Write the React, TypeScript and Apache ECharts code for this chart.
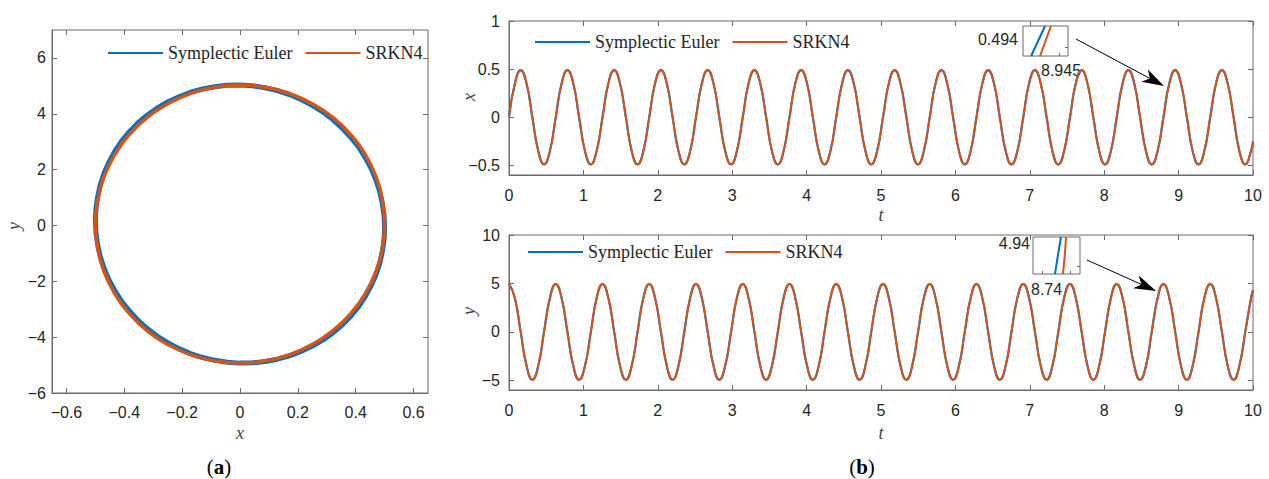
import React, { useEffect, useRef } from "react";
import * as echarts from "echarts";

// ---------- data ----------
// sample times (s) for panel (b)
const tValues = [
  0, 0.079, 0.157, 0.236, 0.314, 0.393, 0.471, 0.55,
  0.628, 0.707, 0.785, 0.864, 0.942, 1.021, 1.1, 1.178,
  1.257, 1.335, 1.414, 1.492, 1.571, 1.649, 1.728, 1.806,
  1.885, 1.963, 2.042, 2.121, 2.199, 2.278, 2.356, 2.435,
  2.513, 2.592, 2.67, 2.749, 2.827, 2.906, 2.985, 3.063,
  3.142, 3.22, 3.299, 3.377, 3.456, 3.534, 3.613, 3.691,
  3.77, 3.848, 3.927, 4.006, 4.084, 4.163, 4.241, 4.32,
  4.398, 4.477, 4.555, 4.634, 4.712, 4.791, 4.869, 4.948,
  5.027, 5.105, 5.184, 5.262, 5.341, 5.419, 5.498, 5.576,
  5.655, 5.733, 5.812, 5.89, 5.969, 6.048, 6.126, 6.205,
  6.283, 6.362, 6.44, 6.519, 6.597, 6.676, 6.754, 6.833,
  6.912, 6.99, 7.069, 7.147, 7.226, 7.304, 7.383, 7.461,
  7.54, 7.618, 7.697, 7.775, 7.854, 7.933, 8.011, 8.09,
  8.168, 8.247, 8.325, 8.404, 8.482, 8.561, 8.639, 8.718,
  8.796, 8.875, 8.954, 9.032, 9.111, 9.189, 9.268, 9.346,
  9.425, 9.503, 9.582, 9.66, 9.739, 9.817, 9.896, 9.974,
  10,
];

// x(t)
const xValues = [
  0, 0.35, 0.49, 0.35, 0, -0.35, -0.49, -0.35,
  0, 0.35, 0.49, 0.35, 0, -0.35, -0.49, -0.35,
  0, 0.35, 0.49, 0.35, 0, -0.35, -0.49, -0.35,
  0, 0.35, 0.49, 0.35, 0, -0.35, -0.49, -0.35,
  0, 0.35, 0.49, 0.35, 0, -0.35, -0.49, -0.35,
  0, 0.35, 0.49, 0.35, 0, -0.35, -0.49, -0.35,
  0, 0.35, 0.49, 0.35, 0, -0.35, -0.49, -0.35,
  0, 0.35, 0.49, 0.35, 0, -0.35, -0.49, -0.35,
  0, 0.35, 0.49, 0.35, 0, -0.35, -0.49, -0.35,
  0, 0.35, 0.49, 0.35, 0, -0.35, -0.49, -0.35,
  0, 0.35, 0.49, 0.35, 0, -0.35, -0.49, -0.35,
  0, 0.35, 0.49, 0.35, 0, -0.35, -0.49, -0.35,
  0, 0.35, 0.49, 0.35, 0, -0.35, -0.49, -0.35,
  0, 0.35, 0.49, 0.35, 0, -0.35, -0.49, -0.35,
  0, 0.35, 0.49, 0.35, 0, -0.35, -0.49, -0.35,
  0, 0.35, 0.49, 0.35, 0, -0.35, -0.49, -0.35,
  -0.25,
];

// y(t)
const yValues = [
  5, 3.5, 0, -3.5, -4.94, -3.5, 0, 3.5,
  4.94, 3.5, 0, -3.5, -4.94, -3.5, 0, 3.5,
  4.94, 3.5, 0, -3.5, -4.94, -3.5, 0, 3.5,
  4.94, 3.5, 0, -3.5, -4.94, -3.5, 0, 3.5,
  4.94, 3.5, 0, -3.5, -4.94, -3.5, 0, 3.5,
  4.94, 3.5, 0, -3.5, -4.94, -3.5, 0, 3.5,
  4.94, 3.5, 0, -3.5, -4.94, -3.5, 0, 3.5,
  4.94, 3.5, 0, -3.5, -4.94, -3.5, 0, 3.5,
  4.94, 3.5, 0, -3.5, -4.94, -3.5, 0, 3.5,
  4.94, 3.5, 0, -3.5, -4.94, -3.5, 0, 3.5,
  4.94, 3.5, 0, -3.5, -4.94, -3.5, 0, 3.5,
  4.94, 3.5, 0, -3.5, -4.94, -3.5, 0, 3.5,
  4.94, 3.5, 0, -3.5, -4.94, -3.5, 0, 3.5,
  4.94, 3.5, 0, -3.5, -4.94, -3.5, 0, 3.5,
  4.94, 3.5, 0, -3.5, -4.94, -3.5, 0, 3.5,
  4.94, 3.5, 0, -3.5, -4.94, -3.5, 0, 3.5,
  4.31,
];

// phase portrait (a): x along the orbit (shared by both methods)
const phaseX = [
  0, 0.044, 0.087, 0.129, 0.171, 0.211, 0.25, 0.287, 0.321, 0.354, 0.383, 0.41, 0.433, 0.453, 0.47, 0.483, 0.492, 0.498, 0.5,
  0.498, 0.492, 0.483, 0.47, 0.453, 0.433, 0.41, 0.383, 0.354, 0.321, 0.287, 0.25, 0.211, 0.171, 0.129, 0.087, 0.044, 0,
  -0.044, -0.087, -0.129, -0.171, -0.211, -0.25, -0.287, -0.321, -0.354, -0.383, -0.41, -0.433, -0.453, -0.47, -0.483, -0.492, -0.498, -0.5,
  -0.498, -0.492, -0.483, -0.47, -0.453, -0.433, -0.41, -0.383, -0.354, -0.321, -0.287, -0.25, -0.211, -0.171, -0.129, -0.087, -0.044, 0,
];
// SRKN4 orbit y
const srknPhaseY = [
  5.03, 5.01, 4.95, 4.86, 4.73, 4.56, 4.36, 4.13, 3.87, 3.57, 3.25, 2.91, 2.54, 2.16, 1.75, 1.34, 0.92, 0.48, 0.05,
  -0.38, -0.82, -1.24, -1.65, -2.06, -2.44, -2.81, -3.15, -3.47, -3.77, -4.03, -4.26, -4.46, -4.63, -4.76, -4.85, -4.91, -4.93,
  -4.91, -4.85, -4.76, -4.63, -4.46, -4.26, -4.03, -3.77, -3.47, -3.15, -2.81, -2.44, -2.06, -1.65, -1.24, -0.82, -0.38, 0.05,
  0.48, 0.92, 1.34, 1.75, 2.16, 2.54, 2.91, 3.25, 3.57, 3.87, 4.13, 4.36, 4.56, 4.73, 4.86, 4.95, 5.01, 5.03,
];
// symplectic Euler orbit y (slightly tilted ellipse)
const eulerPhaseY = [
  5.03, 5.0, 4.93, 4.83, 4.69, 4.51, 4.3, 4.06, 3.79, 3.48, 3.15, 2.81, 2.43, 2.05, 1.63, 1.22, 0.8, 0.36, -0.08,
  -0.51, -0.94, -1.36, -1.77, -2.17, -2.55, -2.91, -3.25, -3.56, -3.85, -4.1, -4.32, -4.51, -4.67, -4.79, -4.87, -4.92, -4.93,
  -4.9, -4.83, -4.73, -4.59, -4.41, -4.2, -3.96, -3.69, -3.38, -3.05, -2.71, -2.33, -1.95, -1.53, -1.12, -0.7, -0.26, 0.18,
  0.61, 1.04, 1.46, 1.87, 2.27, 2.65, 3.01, 3.35, 3.66, 3.95, 4.2, 4.42, 4.61, 4.77, 4.89, 4.97, 5.02, 5.03,
];

// zoom insets
const insetTopEulerT = [8.94436, 8.94498];
const insetTopSrknT = [8.94476, 8.94524];
const insetTopVals = [0.4935, 0.4945];
const insetBotEulerT = [8.73987, 8.74012, 8.74038];
const insetBotSrknT = [8.74055, 8.7407, 8.74081];
const insetBotVals = [4.935, 4.94, 4.945];

// tick labels
const phaseXTicks = [-0.6, -0.4, -0.2, 0, 0.2, 0.4, 0.6];
const phaseYTicks = [-6, -4, -2, 0, 2, 4, 6];
const xtYTicks = [-0.5, 0, 0.5, 1];
const ytYTicks = [-5, 0, 5, 10];

const seriesNames = ["Symplectic Euler", "SRKN4"];
const BLUE = "#0072BD";
const RED = "#D95319";
const AXIS = "#6b6b6b";
const TXT = "#262626";
const SANS = "'Liberation Sans', Arial, Helvetica, sans-serif";
const SERIF = "'Liberation Serif', 'DejaVu Serif', serif";

const zip = (a: number[], b: number[]) => a.map((v, i) => [v, b[i]]);
const fmt = (v: number) => String(Math.round(v * 1000) / 1000).replace("-", "\u2212");

function labelAxis(gridIndex: number, position: string, min: number, max: number, ticks: number[] | null, margin: number, interval?: number) {
  const ax: any = {
    type: "value",
    gridIndex,
    position,
    min,
    max,
    splitLine: { show: false },
    axisLine: { show: true, onZero: false, lineStyle: { color: AXIS, width: 1 } },
    axisTick: { show: true, inside: true, length: 5, lineStyle: { color: AXIS } },
    axisLabel: { show: true, margin, color: TXT, fontFamily: SANS, fontSize: 16, formatter: (v: number) => fmt(v), showMinLabel: true, showMaxLabel: true },
  };
  if (ticks) {
    ax.axisLabel.customValues = ticks;
    ax.axisTick.customValues = ticks;
  }
  if (interval !== undefined) ax.interval = interval;
  return ax;
}

function mirrorAxis(gridIndex: number, position: string, min: number, max: number, ticks: number[] | null, interval?: number) {
  const ax: any = {
    type: "value",
    gridIndex,
    position,
    min,
    max,
    splitLine: { show: false },
    axisLine: { show: false, onZero: false },
    axisTick: { show: true, inside: true, length: 5, lineStyle: { color: AXIS } },
    axisLabel: { show: false },
  };
  if (ticks) ax.axisTick.customValues = ticks;
  if (interval !== undefined) ax.interval = interval;
  return ax;
}

function insetAxis(gridIndex: number, position: string, min: number, max: number, ticks: number[]) {
  return {
    type: "value",
    gridIndex,
    position,
    min,
    max,
    splitLine: { show: false },
    axisLine: { show: false, onZero: false },
    axisTick: { show: true, inside: true, length: 3, customValues: ticks, lineStyle: { color: AXIS } },
    axisLabel: { show: false },
  };
}

function lineSeries(name: string, color: string, width: number, xi: number, yi: number, data: number[][], smooth: boolean | number = true) {
  return {
    name,
    type: "line",
    xAxisIndex: xi,
    yAxisIndex: yi,
    data,
    symbol: "none",
    smooth,
    lineStyle: { color, width, join: "round" },
    itemStyle: { color },
    silent: true,
  };
}

const legendCommon = {
  data: seriesNames,
  orient: "horizontal",
  itemWidth: 55,
  itemHeight: 14,
  itemGap: 12,
  padding: 0,
  selectedMode: false,
  lineStyle: { width: 2 },
  itemStyle: { opacity: 0, borderWidth: 0, color: "rgba(0,0,0,0)", borderColor: "rgba(0,0,0,0)" },
  textStyle: { fontFamily: SERIF, fontSize: 18, color: TXT },
};

function arrow(x0: number, y0: number, tx: number, ty: number) {
  const len = Math.hypot(tx - x0, ty - y0);
  const dx = (tx - x0) / len;
  const dy = (ty - y0) / len;
  const nx = -dy;
  const ny = dx;
  const bx = tx - 22 * dx;
  const by = ty - 22 * dy;
  const notchX = tx - 16 * dx;
  const notchY = ty - 16 * dy;
  return [
    { type: "line", shape: { x1: x0, y1: y0, x2: notchX, y2: notchY }, style: { stroke: "#000", lineWidth: 1 } },
    {
      type: "polygon",
      shape: { points: [[tx, ty], [bx + 7 * nx, by + 7 * ny], [notchX, notchY], [bx - 7 * nx, by - 7 * ny]] },
      style: { fill: "#000" },
    },
  ];
}

function txt(x: number, y: number, text: string, opts: any = {}) {
  return {
    type: "text",
    x,
    y,
    rotation: opts.rotation || 0,
    style: {
      text,
      fill: opts.fill || TXT,
      font: opts.font || `16px ${SANS}`,
      align: opts.align || "center",
      verticalAlign: "middle",
    },
  };
}

function caption(x: number, letter: string) {
  return {
    type: "text",
    x,
    y: 467,
    style: {
      text: `({b|${letter}})`,
      font: `21px ${SERIF}`,
      fill: "#000",
      align: "center",
      verticalAlign: "middle",
      rich: { b: { font: `bold 21px ${SERIF}`, fill: "#000" } },
    },
  };
}

export default function App() {
  const ref = useRef<HTMLDivElement>(null);
  useEffect(() => {
    if (!ref.current) return;
    const chart = echarts.init(ref.current, undefined, { renderer: "svg" });
    const italic = `italic 18px ${SERIF}`;
    const option: any = {
      animation: false,
      backgroundColor: "#ffffff",
      grid: [
        { left: 52, top: 30, width: 376, height: 363, show: true, borderColor: AXIS, borderWidth: 1 },
        { left: 509, top: 21, width: 744, height: 154, show: true, borderColor: AXIS, borderWidth: 1 },
        { left: 509, top: 235, width: 744, height: 155, show: true, borderColor: AXIS, borderWidth: 1 },
        { left: 1023, top: 26, width: 45, height: 30, show: true, borderColor: AXIS, borderWidth: 1, backgroundColor: "#fff" },
        { left: 1033, top: 237, width: 47, height: 37, show: true, borderColor: AXIS, borderWidth: 1, backgroundColor: "#fff" },
      ],
      xAxis: [
        labelAxis(0, "bottom", -0.65, 0.65, phaseXTicks, 11),
        mirrorAxis(0, "top", -0.65, 0.65, phaseXTicks),
        labelAxis(1, "bottom", 0, 10, null, 12, 1),
        mirrorAxis(1, "top", 0, 10, null, 1),
        labelAxis(2, "bottom", 0, 10, null, 12, 1),
        mirrorAxis(2, "top", 0, 10, null, 1),
        insetAxis(3, "bottom", 8.944, 8.946, [8.9444, 8.9456]),
        insetAxis(4, "bottom", 8.738, 8.742, [8.7388, 8.7412]),
      ],
      yAxis: [
        labelAxis(0, "left", -6, 7, phaseYTicks, 6),
        mirrorAxis(0, "right", -6, 7, phaseYTicks),
        labelAxis(1, "left", -0.6, 1, xtYTicks, 9),
        mirrorAxis(1, "right", -0.6, 1, xtYTicks),
        labelAxis(2, "left", -6, 10, ytYTicks, 9),
        mirrorAxis(2, "right", -6, 10, ytYTicks),
        insetAxis(3, "right", 0.4935, 0.4945, [0.4938]),
        insetAxis(4, "right", 4.935, 4.945, [4.9372]),
      ],
      legend: [
        { ...legendCommon, left: 107, top: 44 },
        { ...legendCommon, left: 534, top: 33 },
        { ...legendCommon, left: 527, top: 243 },
      ],
      series: [
        lineSeries(seriesNames[0], BLUE, 5, 0, 0, zip(phaseX, eulerPhaseY), false),
        lineSeries(seriesNames[1], RED, 3.5, 0, 0, zip(phaseX, srknPhaseY), false),
        lineSeries(seriesNames[0], BLUE, 2.2, 2, 2, zip(tValues, xValues)),
        lineSeries(seriesNames[1], RED, 1.8, 2, 2, zip(tValues, xValues)),
        lineSeries(seriesNames[0], BLUE, 2.2, 4, 4, zip(tValues, yValues)),
        lineSeries(seriesNames[1], RED, 1.8, 4, 4, zip(tValues, yValues)),
        lineSeries(seriesNames[0], BLUE, 2, 6, 6, zip(insetTopEulerT, insetTopVals), false),
        lineSeries(seriesNames[1], RED, 2, 6, 6, zip(insetTopSrknT, insetTopVals), false),
        lineSeries(seriesNames[0], BLUE, 2, 7, 7, zip(insetBotEulerT, insetBotVals), true),
        lineSeries(seriesNames[1], RED, 2, 7, 7, zip(insetBotSrknT, insetBotVals), true),
      ],
      graphic: [
        // axis names
        txt(240, 433, "x", { font: italic, fill: "#444" }),
        txt(14, 226, "y", { font: italic, fill: "#444", rotation: Math.PI / 2 }),
        txt(881, 215, "t", { font: italic, fill: "#444" }),
        txt(469, 97, "x", { font: italic, fill: "#444", rotation: Math.PI / 2 }),
        txt(881, 433, "t", { font: italic, fill: "#444" }),
        txt(469, 311, "y", { font: italic, fill: "#444", rotation: Math.PI / 2 }),
        // inset labels
        txt(1018, 39, "0.494", { align: "right" }),
        txt(1041, 70, "8.945", { align: "left" }),
        txt(1030, 243, "4.94", { align: "right" }),
        txt(1031, 289, "8.74", { align: "left" }),
        // panel captions
        caption(219, "a"),
        caption(862, "b"),
        ...arrow(1076, 39, 1164, 86),
        ...arrow(1087, 260, 1156, 291),
      ],
    };
    chart.setOption(option);
    return () => chart.dispose();
  }, []);
  return <div ref={ref} style={{ position: "absolute", left: 0, top: 0, width: 1269, height: 479 }} />;
}
